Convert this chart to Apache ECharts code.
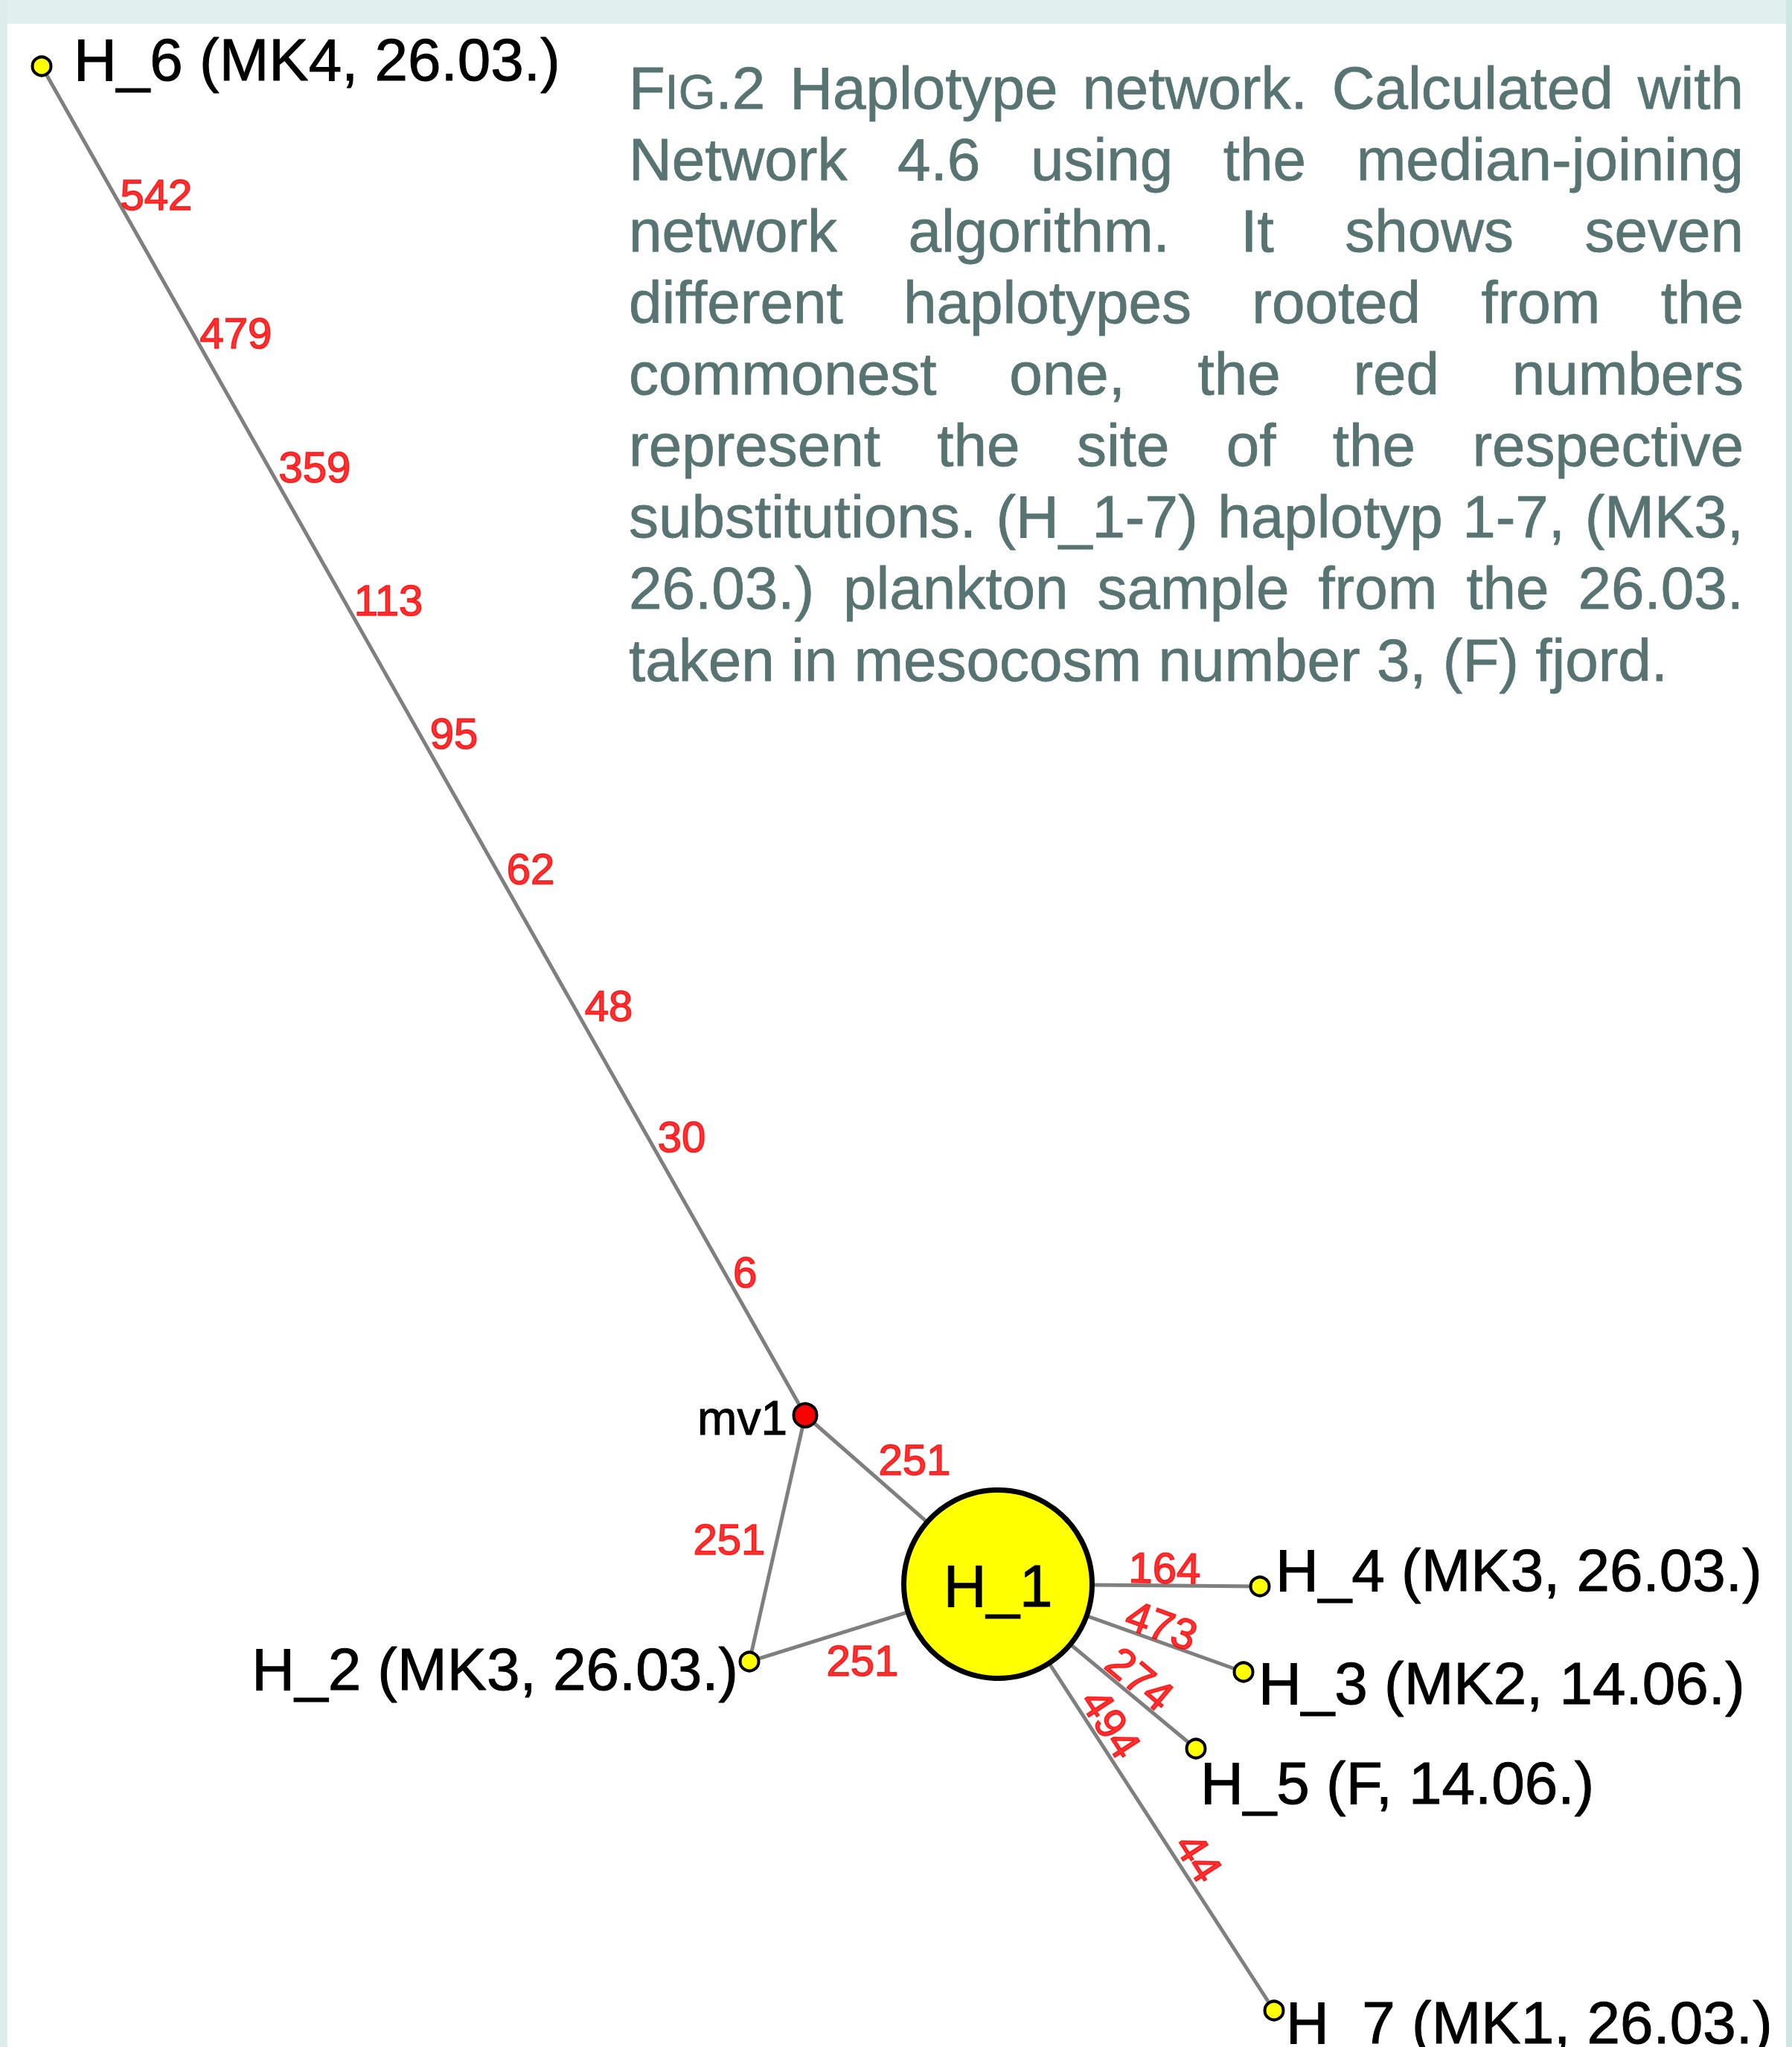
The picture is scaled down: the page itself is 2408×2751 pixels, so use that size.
<!DOCTYPE html>
<html>
<head>
<meta charset="utf-8">
<script src="https://cdn.jsdelivr.net/npm/echarts@6/dist/echarts.min.js"></script>
<style>
html,body{margin:0;padding:0;background:#ffffff;}
#chart{width:2408px;height:2751px;}
</style>
</head>
<body>
<div id="chart"></div>
<script>
// ---------------- data ----------------
const nodeIds    = ['H_1', 'H_2', 'H_3', 'H_4', 'H_5', 'H_6', 'H_7', 'mv1'];
const nodeLabels = ['H_1', 'H_2 (MK3, 26.03.)', 'H_3 (MK2, 14.06.)', 'H_4 (MK3, 26.03.)',
                    'H_5 (F, 14.06.)', 'H_6 (MK4, 26.03.)', 'H_7 (MK1, 26.03.)', 'mv1'];
// layout coordinates of the network nodes
const nodeX = [1341, 1007, 1671, 1693, 1607, 56, 1712, 1082];
const nodeY = [2129, 2233, 2247, 2132, 2350, 89, 2702, 1902];

const linkSource = ['H_6', 'mv1', 'mv1', 'H_2', 'H_1', 'H_1', 'H_1', 'H_1'];
const linkTarget = ['mv1', 'H_1', 'H_2', 'H_1', 'H_4', 'H_3', 'H_5', 'H_7'];

// substitution sites (red numbers) and where they sit on the links
const siteNumbers = [542, 479, 359, 113, 95, 62, 48, 30, 6, 251, 251, 251, 164, 473, 274, 494, 44];
const siteX = [210, 317, 423, 522, 610, 713, 818, 916, 1001, 1229, 980, 1159, 1565, 1561, 1532, 1493, 1611];
const siteY = [261, 447, 627, 806, 985, 1167, 1351, 1527, 1709, 1961, 2068, 2231, 2107, 2184, 2256, 2316, 2496];

const captionLines = [
  'Fig.2 Haplotype network. Calculated with',
  'Network 4.6 using the median-joining',
  'network algorithm. It shows seven',
  'different haplotypes rooted from the',
  'commonest one, the red numbers',
  'represent the site of the respective',
  'substitutions. (H_1-7) haplotyp 1-7, (MK3,',
  '26.03.) plankton sample from the 26.03.',
  'taken in mesocosm number 3, (F) fjord.'
];

// ---------------- styles ----------------
const FONT = '"Liberation Sans", Arial, Helvetica, sans-serif';
const siteRotate = [0, 0, 0, 0, 0, 0, 0, 0, 0, 0, 0, 0, -1, -20, -40, -57, -57];
const nodeStyle = {
  'H_1': { size: 253, fill: '#ffff00', border: 7, align: 'center', offset: [0, 2], fs: 80 },
  'H_2': { size: 25, fill: '#ffff00', border: 4, align: 'right', offset: [-15, 10], fs: 80 },
  'H_3': { size: 25, fill: '#ffff00', border: 4, align: 'left', offset: [20, 15], fs: 80 },
  'H_4': { size: 25, fill: '#ffff00', border: 4, align: 'left', offset: [21, -22], fs: 80 },
  'H_5': { size: 25, fill: '#ffff00', border: 4, align: 'left', offset: [6, 46], fs: 80 },
  'H_6': { size: 25, fill: '#ffff00', border: 4, align: 'left', offset: [43, -9], fs: 80 },
  'H_7': { size: 25, fill: '#ffff00', border: 4, align: 'left', offset: [16, 16], fs: 80 },
  'mv1': { size: 31, fill: '#ff0000', border: 4, align: 'right', offset: [-24, 4], fs: 64 }
};

const CAP_LEFT = 845, CAP_RIGHT = 2343, CAP_BASE0 = 146, CAP_LEAD = 96.1;
const CAP_FS = 80, CAP_SC_FS = 64, CAP_COLOR = '#587472';

// ---------------- caption (justified) ----------------
const mctx = document.createElement('canvas').getContext('2d');
function tw(t, fs) { mctx.font = fs + 'px ' + FONT; return mctx.measureText(t).width; }
function pieces(word) {
  if (word.indexOf('Fig.') === 0) return [['F', CAP_FS], ['IG', CAP_SC_FS], [word.slice(3), CAP_FS]];
  return [[word, CAP_FS]];
}
const graphics = [
  { type: 'rect', shape: { x: 0, y: 0, width: 2408, height: 32 }, style: { fill: '#e1efee' }, silent: true },
  { type: 'rect', shape: { x: 0, y: 0, width: 10, height: 2751 }, style: { fill: '#dcedeb' }, silent: true },
  { type: 'rect', shape: { x: 2400, y: 0, width: 8, height: 2751 }, style: { fill: '#cde6e3' }, silent: true }
];
captionLines.forEach(function (line, li) {
  const words = line.split(' ').map(pieces);
  const widths = words.map(ps => ps.reduce((s, p) => s + tw(p[0], p[1]), 0));
  const total = widths.reduce((a, b) => a + b, 0);
  const last = li === captionLines.length - 1;
  const gap = last ? tw(' ', CAP_FS) : (CAP_RIGHT - CAP_LEFT - total) / (words.length - 1);
  const base = CAP_BASE0 + li * CAP_LEAD;
  let x = CAP_LEFT;
  words.forEach(function (ps) {
    ps.forEach(function (p) {
      graphics.push({
        type: 'text', silent: true,
        style: {
          text: p[0], x: x, y: base - 0.347 * p[1],
          font: p[1] + 'px ' + FONT, fill: CAP_COLOR,
          stroke: CAP_COLOR, lineWidth: 0.8,
          align: 'left', verticalAlign: 'middle'
        }
      });
      x += tw(p[0], p[1]);
    });
    x += gap;
  });
});

// ---------------- chart ----------------
const chart = echarts.init(document.getElementById('chart'), null, { renderer: 'svg', width: 2408, height: 2751 });

const graphData = nodeIds.map(function (id, i) {
  const st = nodeStyle[id];
  return {
    name: id,
    value: [nodeX[i], nodeY[i]],
    symbol: 'circle',
    symbolSize: st.size,
    itemStyle: { color: st.fill, borderColor: '#000000', borderWidth: st.border, opacity: 1 },
    label: {
      show: true, formatter: nodeLabels[i], position: 'inside',
      align: st.align, verticalAlign: 'middle', offset: st.offset,
      fontSize: st.fs, fontFamily: FONT, color: '#000000',
      textBorderColor: '#000000', textBorderWidth: 1
    }
  };
});
const graphLinks = linkSource.map((s, i) => ({ source: s, target: linkTarget[i] }));

const siteData = siteNumbers.map(function (n, i) {
  return { name: String(n), value: [siteX[i], siteY[i]], label: { rotate: siteRotate[i] } };
});

chart.setOption({
  backgroundColor: '#ffffff',
  animation: false,
  grid: { left: 0, right: 0, top: 0, bottom: 0 },
  xAxis: { type: 'value', min: 0, max: 2408, show: false },
  yAxis: { type: 'value', min: 0, max: 2751, inverse: true, show: false },
  graphic: { elements: graphics },
  series: [
    {
      type: 'graph',
      coordinateSystem: 'cartesian2d',
      layout: 'none',
      silent: true,
      data: graphData,
      links: graphLinks,
      lineStyle: { color: '#7f7f7f', width: 5, opacity: 1, curveness: 0 },
      emphasis: { disabled: true },
      z: 3
    },
    {
      type: 'scatter',
      silent: true,
      symbol: 'circle',
      symbolSize: 1,
      itemStyle: { color: 'rgba(0,0,0,0)' },
      data: siteData,
      label: {
        show: true, position: 'inside', formatter: '{b}',
        align: 'center', verticalAlign: 'middle',
        color: '#ff0000', fontSize: 58, fontFamily: FONT,
        textBorderColor: '#ff0000', textBorderWidth: 1.6
      },
      emphasis: { disabled: true },
      z: 5
    }
  ]
});
</script>
</body>
</html>
